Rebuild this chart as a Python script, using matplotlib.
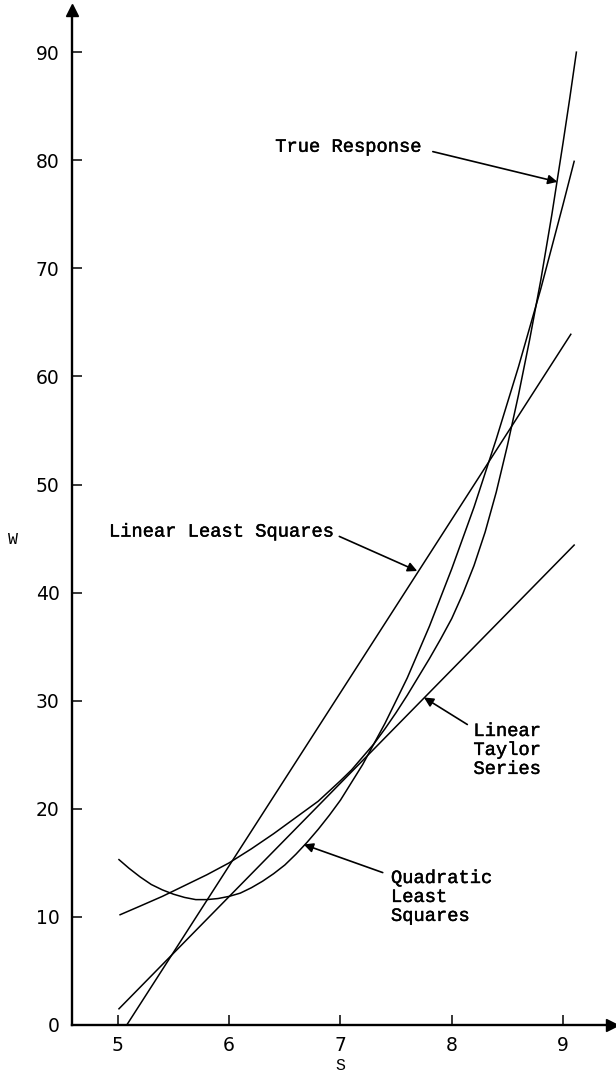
import numpy as np
import matplotlib.pyplot as plt
import matplotlib.patheffects as pe

# true response W(S)
s_true = [5.02, 5.2, 5.4, 5.6, 5.8, 6.0, 6.2, 6.4, 6.6, 6.8, 7.0, 7.1, 7.2, 7.3,
          7.4, 7.5, 7.6, 7.7, 7.8, 7.9, 8.0, 8.1, 8.2, 8.3, 8.4, 8.5, 8.6, 8.7,
          8.8, 8.9, 9.0, 9.06, 9.12]
w_true = [10.2, 11.0, 11.9, 12.9, 13.9, 15.0, 16.3, 17.7, 19.2, 20.7, 22.6, 23.6, 24.8, 26.0,
          27.4, 28.9, 30.5, 32.2, 33.9, 35.7, 37.6, 39.9, 42.5, 45.6, 49.3, 53.6, 58.3, 63.4,
          68.9, 75.0, 81.6, 85.7, 90.0]

# quadratic least squares fit
s_quad = [5.01, 5.1, 5.2, 5.3, 5.4, 5.5, 5.6, 5.7, 5.8, 5.9, 6.0, 6.1, 6.2, 6.3,
          6.4, 6.5, 6.6, 6.7, 6.8, 6.9, 7.0, 7.2, 7.4, 7.6, 7.8, 8.0, 8.2, 8.4,
          8.6, 8.8, 9.0, 9.1]
w_quad = [15.3, 14.5, 13.7, 13.0, 12.5, 12.1, 11.8, 11.6, 11.6, 11.7, 11.9, 12.2, 12.7, 13.3,
          14.0, 14.8, 15.8, 16.9, 18.1, 19.4, 20.8, 24.1, 27.9, 32.1, 36.9, 42.2, 47.9, 54.2,
          60.9, 68.1, 75.9, 79.9]

# straight-line approximations (end points)
s_lls = [5.08, 9.07]
w_lls = [0.0, 63.9]
s_lts = [5.01, 9.1]
w_lts = [1.5, 44.4]

xticks = [5, 6, 7, 8, 9]
yticks = [0, 10, 20, 30, 40, 50, 60, 70, 80, 90]

mono = 'Liberation Mono'
lw = 1.1
heavy = [pe.withStroke(linewidth=0.3, foreground='k')]

fig = plt.figure(figsize=(6.16, 10.73), dpi=100)
ax = fig.add_axes([72/616, 48/1073, 540/616, 1015/1073])
ax.set_xlim(4.588, 9.44)
ax.set_ylim(0, 93.9)

ax.plot(s_true, w_true, color='k', lw=lw)
ax.plot(s_quad, w_quad, color='k', lw=lw)
ax.plot(s_lls, w_lls, color='k', lw=lw)
ax.plot(s_lts, w_lts, color='k', lw=lw)

for side in ['top', 'right']:
    ax.spines[side].set_visible(False)
for side in ['left', 'bottom']:
    ax.spines[side].set_linewidth(1.7)

# arrow heads on the axes
ax.plot(1, 0, '>k', ms=8, transform=ax.transAxes, clip_on=False)
ax.plot(0, 1, '^k', ms=8, transform=ax.transAxes, clip_on=False)

ax.set_xticks(xticks)
ax.set_yticks(yticks)
ax.tick_params(direction='in', length=7, width=1.1, labelsize=13.5, pad=8)
ax.tick_params(axis='y', pad=9)

fig.text(13/616, 1 - 539/1073, 'W', family=mono, fontsize=12, ha='center', va='center')
fig.text(340/616, 1 - 1066/1073, 'S', family=mono, fontsize=12, ha='center', va='center')

arrow = dict(arrowstyle='-|>', color='k', lw=1.2, mutation_scale=14, shrinkA=0, shrinkB=0)
txt = dict(family=mono, fontsize=13.5, va='center', ha='left', linespacing=1.15,
           path_effects=heavy)

ax.text(6.414, 81.2, 'True Response', **txt)
ax.annotate('', xy=(8.95, 78.0), xytext=(7.83, 80.8), arrowprops=arrow)

ax.text(4.92, 45.6, 'Linear Least Squares', **txt)
ax.annotate('', xy=(7.69, 42.0), xytext=(6.99, 45.2), arrowprops=arrow)

ax.text(8.195, 25.4, 'Linear\nTaylor\nSeries', **txt)
ax.annotate('', xy=(7.75, 30.3), xytext=(8.14, 27.8), arrowprops=arrow)

ax.text(7.454, 11.8, 'Quadratic\nLeast\nSquares', **txt)
ax.annotate('', xy=(6.67, 16.7), xytext=(7.38, 14.1), arrowprops=arrow)

plt.savefig('out.png', dpi=100)
